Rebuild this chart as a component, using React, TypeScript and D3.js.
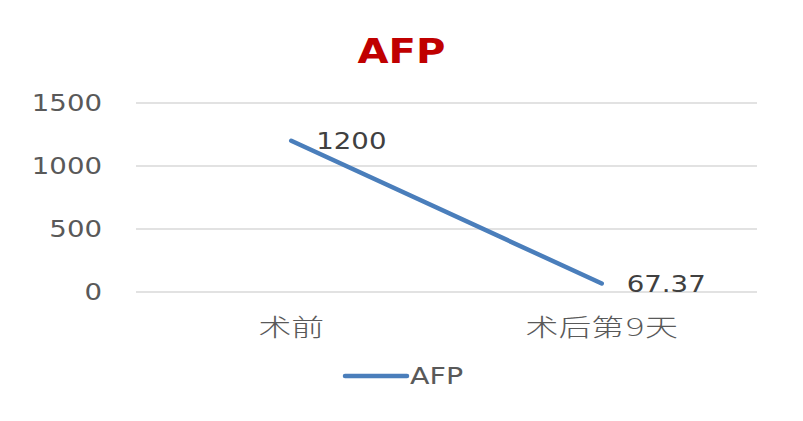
import React from "react";
import * as d3 from "d3";

const categories = ["术前", "术后第9天"];
const afpValues = [1200, 67.37];
const yTicks = [0, 500, 1000, 1500];
const seriesName = "AFP";

const width = 803;
const height = 421;
const margin = { top: 103, right: 46, bottom: 129, left: 136 };
const sx = 1.2;

function App() {
  const innerW = width - margin.left - margin.right;
  const innerH = height - margin.top - margin.bottom;

  const x = d3.scalePoint<string>().domain(categories).range([0, innerW]).padding(0.5);
  const y = d3.scaleLinear().domain([0, 1500]).range([innerH, 0]);

  const line = d3
    .line<number>()
    .x((_, i) => x(categories[i])!)
    .y(d => y(d));

  const latin = "'DejaVu Sans', sans-serif";
  const cjk = "'DejaVu Sans', 'Noto Sans CJK SC', sans-serif";

  return (
    <svg
      width={width}
      height={height}
      style={{ position: "absolute", left: 0, top: 0, background: "#fff" }}
    >
      <text
        transform={`translate(${width / 2},63) scale(1.18,1)`}
        textAnchor="middle"
        fontFamily={latin}
        fontWeight="bold"
        fontSize={34}
        fill="#c00000"
      >
        AFP
      </text>
      <g transform={`translate(${margin.left},${margin.top})`}>
        {yTicks.map(t => (
          <g key={t}>
            <line x1={0} x2={innerW} y1={y(t)} y2={y(t)} stroke="#d9d9d9" strokeWidth={1.5} />
            <text
              transform={`translate(-34,${y(t)}) scale(${sx},1)`}
              textAnchor="end"
              dy="0.35em"
              fontFamily={latin}
              fontSize={23}
              fill="#595959"
            >
              {t}
            </text>
          </g>
        ))}
        {categories.map(c => (
          <text
            key={c}
            transform={`translate(${x(c)},${innerH + 36}) scale(1.37,1)`}
            textAnchor="middle"
            dy="0.35em"
            fontFamily={cjk}
            fontSize={24}
            fontWeight={300}
            fill="#595959"
          >
            {c}
          </text>
        ))}
        <path
          d={line(afpValues) ?? undefined}
          fill="none"
          stroke="#4a7ebb"
          strokeWidth={4.5}
          strokeLinecap="round"
        />
        {afpValues.map((v, i) => (
          <text
            key={i}
            transform={`translate(${x(categories[i])! + 25},${y(v)}) scale(${sx},1)`}
            dy="0.35em"
            fontFamily={latin}
            fontSize={23}
            fill="#404040"
          >
            {v}
          </text>
        ))}
      </g>
      <g transform="translate(345,376)">
        <line x1={0} x2={62} y1={0} y2={0} stroke="#4a7ebb" strokeWidth={4.5} strokeLinecap="round" />
        <text
          transform={`translate(65,0) scale(1.24,1)`}
          dy="0.35em"
          fontFamily={latin}
          fontSize={23}
          fill="#595959"
        >
          {seriesName}
        </text>
      </g>
    </svg>
  );
}

export default App;
